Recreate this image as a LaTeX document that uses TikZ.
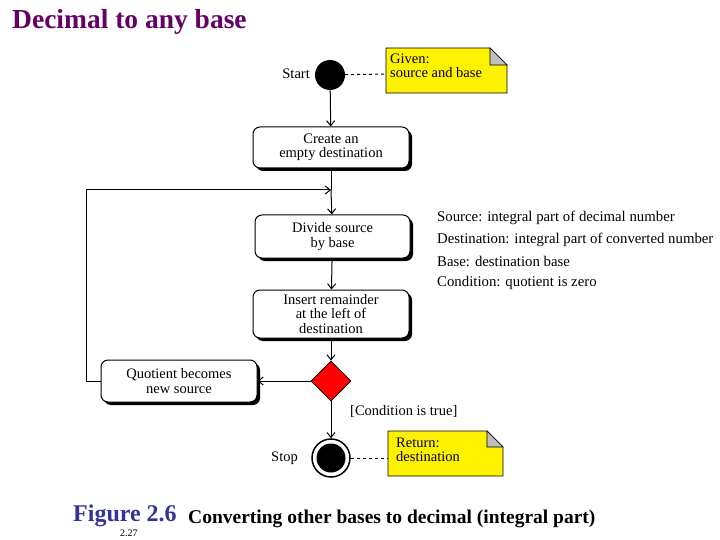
\documentclass[tikz,border=0pt]{standalone}
\usepackage{fontspec}
\setmainfont{Liberation Serif}
\usetikzlibrary{shapes.geometric,arrows.meta}
\definecolor{ttl}{HTML}{660066}
\definecolor{fig}{HTML}{333399}
\begin{document}
\begin{tikzpicture}[x=1pt,y=-1pt,
 act/.style={draw,line width=1pt,rounded corners=7pt,fill=white,minimum width=156pt,align=center,font=\fontsize{14.5}{14.5}\selectfont,inner sep=1pt},
 shd/.style={fill=black,rounded corners=7pt},
 arr/.style={-{Straight Barb[length=5pt,width=8pt]},line width=1pt},
 lab/.style={font=\fontsize{14.5}{15}\selectfont,anchor=west,inner sep=0pt}]
\useasboundingbox (0,0) rectangle (720,540);
\node[font=\bfseries\fontsize{27.5}{30}\selectfont,text=ttl,anchor=west,inner sep=0pt] (title) at (12,22) {Decimal to any base};
% start
\node[circle,fill=black,minimum size=30pt,inner sep=0pt] (start) at (330,75) {};
\node[lab,anchor=east] (startl) at (310,74) {Start};
% given note
\fill[yellow,draw=black,line width=0.8pt] (386,48) -- (490,48) -- (507,65) -- (507,93) -- (386,93) -- cycle;
\fill[gray!50,draw=black,line width=0.6pt] (490,48) -- (490,65) -- (507,65) -- cycle;
\node[lab,align=left,anchor=north west,font=\fontsize{14.5}{14}\selectfont] (given) at (390,54) {Given:\\source and base};
\draw[dashed,line width=1pt] (start) -- (386,74);
% boxes
\fill[shd] (256,130) rectangle (412,171);
\node[act,minimum height=41pt] (b1) at (331,147.5) {Create an\\empty destination};
\fill[shd] (258,218) rectangle (413,261);
\node[act,minimum height=43pt,minimum width=155pt] (b2) at (332.5,236.5) {Divide source\\by base};
\fill[shd] (256,293) rectangle (412,341);
\node[act,minimum height=48pt] (b3) at (331,314) {Insert remainder\\at the left of\\destination};
\node[diamond,fill=red,draw=black,line width=0.8pt,minimum size=40pt,inner sep=0pt] (d) at (331,381) {};
\fill[shd] (104,363) rectangle (260,405);
\node[act,minimum height=42pt] (b4) at (179,381) {Quotient becomes\\new source};
% stop
\node[circle,draw=black,line width=1.5pt,fill=white,minimum size=38pt,inner sep=0pt] (stop) at (331,458) {};
\node[circle,fill=black,minimum size=29pt,inner sep=0pt] at (stop) {};
\node[lab,anchor=east] (stopl) at (298,458) {Stop};
\node[lab] (cond) at (350,411) {[Condition is true]};
% return note
\fill[yellow,draw=black,line width=0.8pt] (388,431) -- (487,431) -- (503,447) -- (503,476) -- (388,476) -- cycle;
\fill[gray!50,draw=black,line width=0.6pt] (487,431) -- (487,447) -- (503,447) -- cycle;
\node[lab,align=left,anchor=north west,font=\fontsize{14.5}{14}\selectfont] (ret) at (396,438) {Return:\\destination};
\draw[dashed,line width=1pt] (stop) -- (388,458);
% arrows
\draw[arr] (start) -- (b1);
\coordinate (j) at (331,190);
\draw[line width=1pt] (b1) -- (j);
\draw[arr] (j) -- (b2);
\draw[arr] (b2) -- (b3);
\draw[arr] (b3) -- (d);
\draw[arr] (d) -- (b4);
\draw[arr] (d) -- (stop);
\draw[arr] (b4.west) -- (86,381) -- (86,190) -- (j);
% info text
\node[lab,font=\fontsize{14.8}{15}\selectfont] (i1) at (437,218) {Source: integral part of decimal number};
\node[lab,font=\fontsize{14.8}{15}\selectfont] (i2) at (437,240) {Destination: integral part of converted number};
\node[lab,font=\fontsize{14.8}{15}\selectfont] (i3) at (437,261) {Base: destination base};
\node[lab,font=\fontsize{14.8}{15}\selectfont] (i4) at (437,283) {Condition: quotient is zero};
% caption
\node[anchor=west,inner sep=0pt,font=\bfseries\fontsize{24}{26}\selectfont,text=fig] (fig) at (73,516) {Figure 2.6};
\node[anchor=west,inner sep=0pt,font=\fontsize{10}{11}\selectfont] (pg) at (120,533) {2.27};
\node[anchor=west,inner sep=0pt,font=\bfseries\fontsize{19.5}{21}\selectfont] (cap) at (188,519) {Converting other bases to decimal (integral part)};
\end{tikzpicture}
\end{document}
